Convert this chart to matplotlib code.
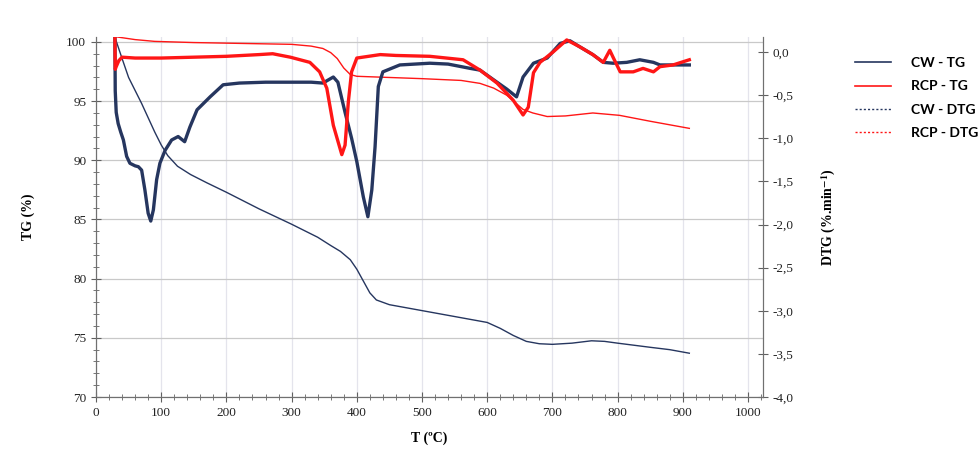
import matplotlib
matplotlib.use("Agg")
import matplotlib.pyplot as plt
from matplotlib.lines import Line2D
from matplotlib.ticker import MultipleLocator, FuncFormatter

plt.rcParams["font.family"] = ["Liberation Serif", "DejaVu Serif"]
plt.rcParams["mathtext.fontset"] = "stix"

NAVY = "#26365f"
RED = "#ff1616"

# --- TG curves (left axis, %) ---
t_cw_tg = [29, 40, 50, 60, 70, 80, 90, 100, 110, 125, 145, 170, 200, 250, 300, 340,
           360, 375, 390, 400, 410, 420, 430, 450, 500, 550, 600, 620, 640, 660, 680,
           700, 730, 760, 780, 800, 850, 880, 910]
cw_tg = [100.4, 98.6, 97.0, 95.9, 94.8, 93.6, 92.4, 91.3, 90.4, 89.5, 88.8, 88.1, 87.3,
         85.9, 84.6, 83.5, 82.8, 82.3, 81.6, 80.8, 79.8, 78.8, 78.2, 77.8, 77.3, 76.8,
         76.3, 75.8, 75.2, 74.7, 74.5, 74.45, 74.55, 74.75, 74.7, 74.55, 74.2, 74.0, 73.7]

t_rcp_tg = [29, 60, 90, 150, 200, 250, 300, 330, 348, 360, 370, 380, 390, 400, 450, 500,
            560, 589, 610, 630, 655, 670, 692, 720, 762, 803, 850, 910]
rcp_tg = [100.45, 100.2, 100.05, 99.95, 99.9, 99.85, 99.8, 99.65, 99.45, 99.1, 98.6, 97.8,
          97.25, 97.1, 97.0, 96.9, 96.75, 96.5, 96.1, 95.5, 94.3, 94.0, 93.7, 93.75, 94.0,
          93.8, 93.3, 92.7]

# --- DTG curves (right axis, %.min-1) ---
t_cw_dtg = [29, 29.5, 31, 34, 38, 42, 47, 52, 60, 65, 70, 75, 80, 84, 88, 93, 98, 106,
            116, 126, 136, 144, 155, 175, 195, 220, 260, 298, 330, 348, 364, 371, 382,
            392, 400, 410, 417, 423, 428, 433, 440, 466, 512, 540, 574, 589, 615, 630,
            645, 655, 671, 692, 712, 727, 742, 762, 778, 793, 814, 834, 855, 865, 885, 910]
cw_dtg = [0.17, -0.45, -0.7, -0.83, -0.93, -1.02, -1.21, -1.29, -1.32, -1.33, -1.37, -1.6,
          -1.87, -1.96, -1.83, -1.48, -1.29, -1.14, -1.02, -0.98, -1.04, -0.87, -0.67,
          -0.52, -0.38, -0.36, -0.35, -0.35, -0.35, -0.36, -0.29, -0.35, -0.7, -1.0,
          -1.27, -1.68, -1.91, -1.6, -1.1, -0.4, -0.23, -0.15, -0.13, -0.14, -0.19,
          -0.21, -0.35, -0.43, -0.52, -0.29, -0.13, -0.07, 0.10, 0.13, 0.06, -0.03,
          -0.12, -0.13, -0.12, -0.09, -0.12, -0.15, -0.15, -0.15]

t_rcp_dtg = [29, 29.5, 31, 35, 40, 60, 100, 150, 200, 250, 271, 298, 328, 343, 354, 364,
             377, 382, 387, 392, 400, 436, 460, 512, 563, 589, 615, 640, 655, 663, 671,
             681, 701, 722, 742, 762, 778, 788, 793, 804, 824, 839, 855, 865, 885, 910]
rcp_dtg = [0.17, -0.2, -0.17, -0.1, -0.06, -0.07, -0.07, -0.06, -0.05, -0.03, -0.02,
           -0.06, -0.12, -0.23, -0.42, -0.85, -1.19, -1.08, -0.58, -0.23, -0.07, -0.03,
           -0.04, -0.05, -0.09, -0.21, -0.36, -0.56, -0.73, -0.64, -0.24, -0.12, 0.0,
           0.14, 0.06, -0.03, -0.12, 0.02, -0.06, -0.23, -0.23, -0.19, -0.23, -0.17,
           -0.15, -0.09]

fig = plt.figure(figsize=(9.79, 4.49), dpi=100)
ax = fig.add_axes([96 / 979, 52 / 449, 667 / 979, 360 / 449])
ax2 = ax.twinx()

ax.plot(t_cw_tg, cw_tg, color=NAVY, lw=1.0, zorder=3)
ax.plot(t_rcp_tg, rcp_tg, color=RED, lw=1.0, zorder=3)
ax2.plot(t_cw_dtg, cw_dtg, color=NAVY, lw=2.4)
ax2.plot(t_rcp_dtg, rcp_dtg, color=RED, lw=2.4)

ax.set_xlim(0, 1023)
ax.set_ylim(70, 100.42)
ax2.set_ylim(-4.0, 0.174)

ax.xaxis.set_major_locator(MultipleLocator(100))
ax.xaxis.set_minor_locator(MultipleLocator(20))
ax.yaxis.set_major_locator(MultipleLocator(5))
ax.yaxis.set_minor_locator(MultipleLocator(1))
ax2.yaxis.set_major_locator(MultipleLocator(0.5))
ax2.yaxis.set_major_formatter(FuncFormatter(lambda v, p: f"{v:.1f}".replace(".", ",")))

ax.grid(axis="y", color="#c9c9c9", lw=0.9)
ax.grid(axis="x", color="#e4e4ec", lw=0.9)
ax.set_axisbelow(True)

for a in (ax, ax2):
    a.spines["top"].set_visible(False)
    for s in ("left", "right", "bottom"):
        a.spines[s].set_color("#707070")
ax.tick_params(which="both", direction="inout", colors="#606060", labelcolor="#222222", labelsize=9.5)
ax.tick_params(which="major", length=7)
ax.tick_params(which="minor", length=5)
ax2.tick_params(direction="inout", length=7, colors="#606060", labelcolor="#222222", labelsize=9.5)

ax.set_xlabel("T (ºC)", fontweight="bold", fontsize=10)
ax.set_ylabel("TG (%)", fontweight="bold", fontsize=10)
ax2.set_ylabel(r"DTG (%.min$^{\mathbf{-1}}$)", fontweight="bold", fontsize=10)
ax.yaxis.set_label_coords(-0.091, 0.5)
ax2.yaxis.set_label_coords(1.085, 0.5)
ax.xaxis.set_label_coords(0.5, -0.095)

handles = [Line2D([], [], color=NAVY, lw=1.2),
           Line2D([], [], color=RED, lw=1.2),
           Line2D([], [], color=NAVY, lw=1.0, ls=(0, (1.5, 1.5))),
           Line2D([], [], color=RED, lw=1.0, ls=(0, (1.5, 1.5)))]
labels = ["CW - TG", "RCP - TG", "CW - DTG", "RCP - DTG"]
fig.legend(handles, labels, loc="upper left", bbox_to_anchor=(855 / 979, 1 - 57 / 449),
           frameon=False, borderpad=0, borderaxespad=0, handlelength=2.6,
           handletextpad=1.4, labelspacing=0.82,
           prop={"family": ["Lato", "DejaVu Sans"], "weight": "bold", "size": 10})

fig.savefig("out.png", dpi=100)
